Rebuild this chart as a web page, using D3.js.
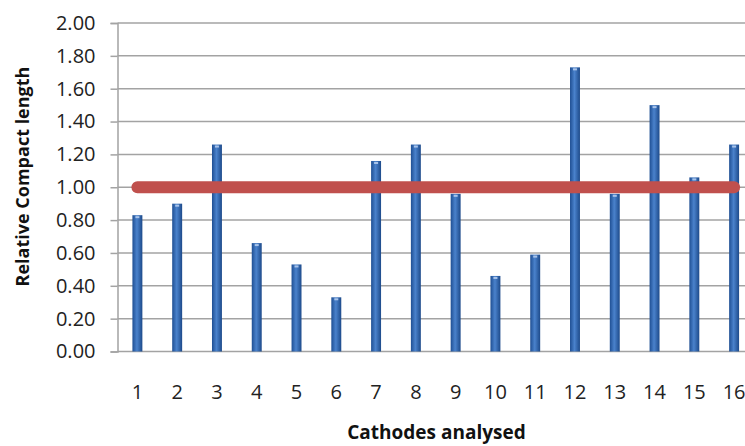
<!DOCTYPE html>
<html>
<head>
<meta charset="utf-8">
<script src="https://cdn.jsdelivr.net/npm/d3@7"></script>
<style>
  body { margin: 0; background: #fff; }
  svg { display: block; overflow: hidden; font-family: "Open Sans", sans-serif; }
</style>
</head>
<body>
<div id="board"></div>
<script>
// data
const cathodes = ["1", "2", "3", "4", "5", "6", "7", "8", "9", "10", "11", "12", "13", "14", "15", "16"];
const compactLength = [0.83, 0.90, 1.26, 0.66, 0.53, 0.33, 1.16, 1.26, 0.96, 0.46, 0.59, 1.73, 0.96, 1.50, 1.06, 1.26];
const referenceLevel = [1, 1, 1, 1, 1, 1, 1, 1, 1, 1, 1, 1, 1, 1, 1, 1];
const yTicks = [0, 0.2, 0.4, 0.6, 0.8, 1.0, 1.2, 1.4, 1.6, 1.8, 2.0];

// chart dimensions (plot runs past the right edge, as in the original crop)
const width = 745;
const height = 446;
const marginTop = 23;
const marginLeft = 117.5;
const plotRight = 754;
const plotBottom = 351.5;

const x = d3.scaleBand()
    .domain(cathodes)
    .range([marginLeft, plotRight])
    .paddingInner(0.75)
    .paddingOuter(0.375);

const y = d3.scaleLinear()
    .domain([0, 2])
    .range([plotBottom, marginTop]);

const svg = d3.create("svg")
    .attr("width", width)
    .attr("height", height);

// bar gradient
const defs = svg.append("defs");
const grad = defs.append("linearGradient")
    .attr("id", "barGrad")
    .attr("x1", "0%").attr("x2", "100%")
    .attr("y1", "0%").attr("y2", "0%");
grad.append("stop").attr("offset", "0%").attr("stop-color", "#1f4f93");
grad.append("stop").attr("offset", "45%").attr("stop-color", "#4a82cc");
grad.append("stop").attr("offset", "100%").attr("stop-color", "#1d4a8a");

// horizontal grid lines
svg.append("g")
    .selectAll("line")
    .data(yTicks)
    .enter()
    .append("line")
    .attr("x1", marginLeft)
    .attr("x2", plotRight)
    .attr("y1", d => y(d))
    .attr("y2", d => y(d))
    .attr("stroke", "#a3a3a3")
    .attr("stroke-width", 1.5);

// y axis
const yAxis = svg.append("g")
    .attr("transform", `translate(${marginLeft},0)`)
    .call(d3.axisLeft(y).tickValues(yTicks).tickFormat(d3.format(".2f")).tickSize(7).tickPadding(15));
yAxis.select(".domain").attr("stroke", "#a3a3a3").attr("stroke-width", 1.5);
yAxis.selectAll(".tick line").attr("stroke", "#a3a3a3").attr("stroke-width", 1.5);
yAxis.selectAll(".tick text")
    .attr("fill", "#222")
    .style("font-size", "20px")
    .style("font-family", "'Open Sans', sans-serif");

// x axis (labels only)
const xAxis = svg.append("g")
    .attr("transform", `translate(0,${plotBottom})`)
    .call(d3.axisBottom(x).tickSize(0).tickPadding(33));
xAxis.select(".domain").remove();
xAxis.selectAll(".tick text")
    .attr("fill", "#222")
    .style("font-size", "20px")
    .style("font-family", "'Open Sans', sans-serif");

// bars
const bars = cathodes.map((c, i) => ({ cat: c, value: compactLength[i] }));
svg.append("g")
    .selectAll("rect")
    .data(bars)
    .enter()
    .append("rect")
    .attr("x", d => x(d.cat))
    .attr("y", d => y(d.value))
    .attr("width", x.bandwidth())
    .attr("height", d => y(0) - y(d.value))
    .attr("fill", "url(#barGrad)");

// light cap on top of each bar
svg.append("g")
    .selectAll("rect")
    .data(bars)
    .enter()
    .append("rect")
    .attr("x", d => x(d.cat) + x.bandwidth() * 0.3)
    .attr("y", d => y(d.value) + 1)
    .attr("width", x.bandwidth() * 0.4)
    .attr("height", 2)
    .attr("fill", "#a9c4ea");

// reference line at 1.00
const line = d3.line()
    .x((d, i) => x(cathodes[i]) + x.bandwidth() / 2)
    .y(d => y(d));
svg.append("path")
    .datum(referenceLevel)
    .attr("d", line)
    .attr("fill", "none")
    .attr("stroke", "#c0504d")
    .attr("stroke-width", 12)
    .attr("stroke-linecap", "round");

// axis titles
svg.append("text")
    .attr("transform", "rotate(-90)")
    .attr("x", -176.5)
    .attr("y", 29)
    .attr("text-anchor", "middle")
    .attr("fill", "#111")
    .style("font-size", "18px")
    .style("font-weight", "bold")
    .text("Relative Compact length");

svg.append("text")
    .attr("x", 436.5)
    .attr("y", 439)
    .attr("text-anchor", "middle")
    .attr("fill", "#111")
    .style("font-size", "19px")
    .style("font-weight", "bold")
    .text("Cathodes analysed");

document.getElementById("board").append(svg.node());
</script>
</body>
</html>
